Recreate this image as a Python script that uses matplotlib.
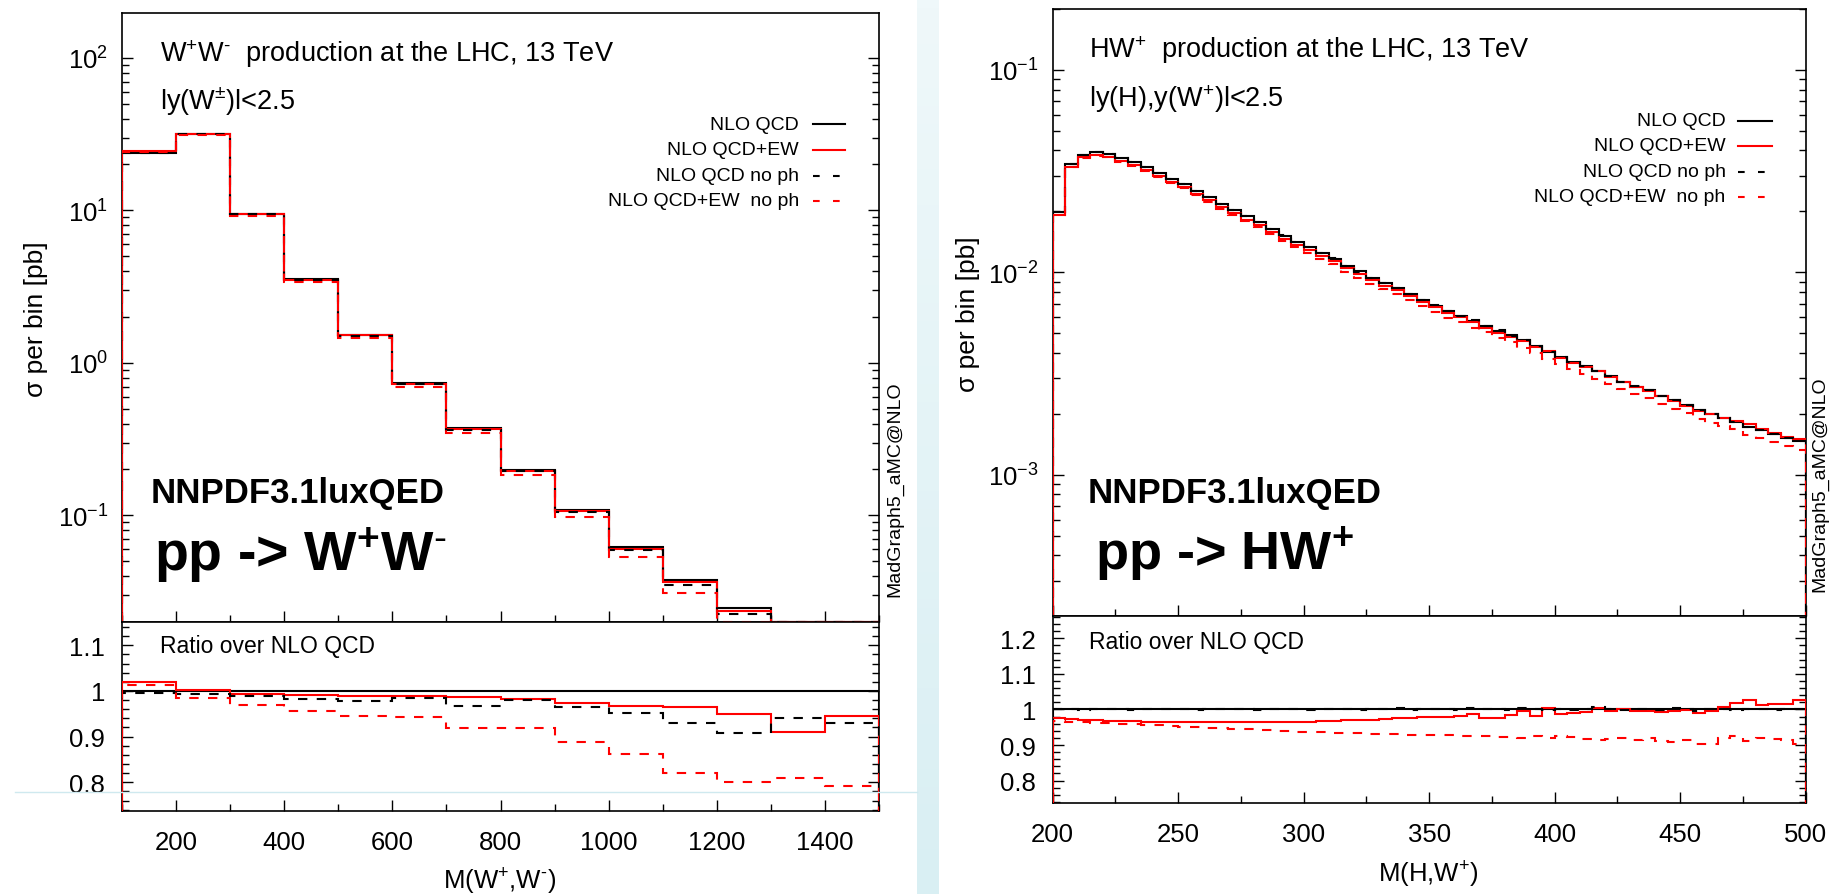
import numpy as np
import matplotlib
matplotlib.use('Agg')
import matplotlib.pyplot as plt
from matplotlib.ticker import MultipleLocator, LogLocator, FuncFormatter, NullFormatter

plt.rcParams['font.family'] = ['Liberation Sans', 'DejaVu Sans']
plt.rcParams['mathtext.fontset'] = 'custom'
plt.rcParams['mathtext.rm'] = 'Liberation Sans'
plt.rcParams['mathtext.it'] = 'Liberation Sans:italic'
plt.rcParams['mathtext.bf'] = 'Liberation Sans:bold'

W, H = 1834, 895

### W+W- invariant mass, bins of 100 GeV
ww_edges = np.arange(100, 1501, 100)
ww_qcd = [23.9, 31.7, 9.5, 3.54, 1.53, 0.74, 0.376, 0.199, 0.109, 0.0624,
          0.0378, 0.0248, 0.0155, 0.0105]
ww_ratio_ew = [1.019, 1.001, 0.994, 0.991, 0.989, 0.988, 0.986, 0.983, 0.974,
               0.967, 0.965, 0.950, 0.911, 0.945]
ww_ratio_qcd_noph = [0.996, 0.993, 0.990, 0.983, 0.978, 0.985, 0.967, 0.980,
                     0.964, 0.951, 0.930, 0.907, 0.941, 0.930]
ww_ratio_ew_noph = [1.012, 0.984, 0.969, 0.956, 0.945, 0.943, 0.918, 0.918,
                    0.889, 0.861, 0.820, 0.800, 0.810, 0.792]

### H W+ invariant mass, bins of 5 GeV
hw_edges = np.arange(200, 501, 5)
hw_qcd = [0.0198, 0.0343, 0.0382, 0.0392, 0.0385, 0.0367, 0.0350, 0.0331, 0.0310, 0.0290,
          0.0274, 0.0253, 0.0235, 0.0218, 0.0204, 0.0189, 0.0177, 0.0164, 0.0152, 0.0142,
          0.0133, 0.0125, 0.0117, 0.0108, 0.0101, 0.0094, 0.00885, 0.00836, 0.00783, 0.00731,
          0.00686, 0.00643, 0.00612, 0.00578, 0.00546, 0.00516, 0.00488, 0.00461, 0.00435, 0.00406,
          0.00381, 0.00360, 0.00343, 0.00324, 0.00306, 0.00289, 0.00273, 0.00261, 0.00246, 0.00233,
          0.00220, 0.00209, 0.00200, 0.00190, 0.00182, 0.00173, 0.00166, 0.00159, 0.00152, 0.00147]
hw_ratio_ew = [0.975, 0.972, 0.970, 0.969, 0.968, 0.967, 0.967, 0.966, 0.966, 0.965,
               0.965, 0.964, 0.964, 0.964, 0.964, 0.964, 0.964, 0.965, 0.965, 0.966,
               0.966, 0.967, 0.968, 0.969, 0.970, 0.971, 0.973, 0.975, 0.976, 0.978,
               0.979, 0.980, 0.983, 0.986, 0.977, 0.977, 0.985, 0.995, 0.982, 1.004,
               0.988, 0.990, 0.992, 1.003, 0.996, 1.000, 0.997, 0.995, 0.993, 0.997,
               0.999, 0.991, 0.995, 1.007, 1.019, 1.027, 1.012, 1.014, 1.014, 1.028]
hw_ratio_qcd_noph = [1.000, 1.001, 0.999, 1.000, 1.001, 1.000, 0.999, 1.001, 1.000, 1.002,
                     1.000, 0.999, 1.001, 1.000, 1.000, 1.002, 0.999, 1.000, 1.001, 1.000,
                     0.999, 1.001, 1.002, 1.000, 0.998, 1.001, 1.000, 1.003, 0.999, 1.000,
                     1.002, 1.000, 0.998, 1.003, 1.000, 1.001, 0.999, 1.003, 1.000, 0.998,
                     1.002, 0.999, 1.001, 1.006, 1.000, 0.998, 1.002, 1.000, 0.999, 1.003,
                     1.001, 0.996, 1.000, 1.002, 0.999, 1.001, 1.000, 0.998, 1.001, 1.000]
hw_ratio_ew_noph = [0.968, 0.966, 0.964, 0.962, 0.961, 0.960, 0.958, 0.957, 0.955, 0.953,
                    0.951, 0.950, 0.948, 0.947, 0.945, 0.944, 0.942, 0.941, 0.940, 0.938,
                    0.937, 0.936, 0.935, 0.934, 0.933, 0.932, 0.931, 0.930, 0.929, 0.928,
                    0.927, 0.928, 0.925, 0.924, 0.926, 0.922, 0.923, 0.921, 0.924, 0.920,
                    0.925, 0.922, 0.918, 0.914, 0.916, 0.920, 0.915, 0.920, 0.911, 0.909,
                    0.913, 0.904, 0.902, 0.920, 0.925, 0.911, 0.920, 0.918, 0.913, 0.902]

legend_labels = ['NLO QCD', 'NLO QCD+EW', 'NLO QCD no ph', 'NLO QCD+EW  no ph']

DASH = (0, (4.5, 4.5))
styles = [
	dict(color='black', ls='-',  z=2),
	dict(color='red',   ls='-',  z=3),
	dict(color='black', ls=DASH, z=4),
	dict(color='red',   ls=DASH, z=5),
]


def box(x0, y0, x1, y1):
	return [x0 / W, 1 - y1 / H, (x1 - x0) / W, (y1 - y0) / H]


def ptext(x, y, s, **kw):
	fig.text(x / W, 1 - y / H, s, **kw)


def ratio_fmt(v, pos):
	return '%g' % round(v, 3)


def style_axes(ax, xmajor, xminor):
	for sp in ax.spines.values():
		sp.set_linewidth(1.2)
	ax.xaxis.set_major_locator(MultipleLocator(xmajor))
	ax.xaxis.set_minor_locator(MultipleLocator(xminor))
	ax.tick_params(which='both', direction='in', left=True, right=True,
	               top=False, bottom=True, width=1.0, labelsize=18.5)
	ax.tick_params(which='major', length=8)
	ax.tick_params(which='minor', length=4.8)


def panel(edges, qcd, r_ew, r_qcd_noph, r_ew_noph, box_main, box_ratio,
          ylim, rlim, rmajor, xmajor, xminor):
	qcd = np.array(qcd)
	ratios = [np.ones(len(qcd)), np.array(r_ew), np.array(r_qcd_noph), np.array(r_ew_noph)]

	axm = fig.add_axes(box_main)
	axr = fig.add_axes(box_ratio, sharex=axm)

	for r, st in zip(ratios, styles):
		axm.stairs(np.maximum(qcd * r, ylim[0]), edges, baseline=ylim[0],
		           color=st['color'], ls=st['ls'], lw=1.5, zorder=st['z'])
		axr.stairs(np.clip(r, rlim[0], rlim[1]), edges, baseline=rlim[0],
		           color=st['color'], ls=st['ls'], lw=1.5, zorder=st['z'])

	axm.set_yscale('log')
	axm.set_ylim(*ylim)
	axm.set_xlim(edges[0], edges[-1])
	axr.set_ylim(*rlim)

	style_axes(axm, xmajor, xminor)
	style_axes(axr, xmajor, xminor)
	axm.yaxis.set_major_locator(LogLocator(base=10, numticks=12))
	axm.yaxis.set_minor_locator(LogLocator(base=10, subs=np.arange(2, 10), numticks=12))
	axm.yaxis.set_minor_formatter(NullFormatter())
	axm.tick_params(axis='y', which='both', pad=10)
	axm.tick_params(axis='x', labelbottom=False)
	axr.yaxis.set_major_locator(MultipleLocator(rmajor))
	axr.yaxis.set_minor_locator(MultipleLocator(0.02))
	axr.yaxis.set_major_formatter(FuncFormatter(ratio_fmt))
	axr.tick_params(axis='y', which='both', pad=12)
	axr.tick_params(axis='x', which='both', pad=14)
	return axm, axr


def legend(x_text, x0, x1, rows):
	for lab, st, y in zip(legend_labels, styles, rows):
		ptext(x_text, y, lab, ha='right', va='center', fontsize=14)
		ls = st['ls'] if st['ls'] == '-' else (0, (3.2, 6.4))
		fig.add_artist(plt.Line2D([x0 / W, x1 / W], [1 - y / H, 1 - y / H],
		                          color=st['color'], ls=ls, lw=1.5))


fig = plt.figure(figsize=(W / 100, H / 100), dpi=100)

### slide background pieces
strip = fig.add_axes(box(917, 0, 939, H))
strip.imshow(np.linspace(0, 1, 100).reshape(-1, 1), aspect='auto',
             cmap=matplotlib.colors.LinearSegmentedColormap.from_list('s', ['#eff8fa', '#d9eff3']),
             extent=[0, 1, 0, 1])
strip.set_axis_off()
fig.add_artist(plt.Line2D([15 / W, 917 / W], [1 - 793 / H, 1 - 793 / H],
                          color='#cfe9ef', lw=1.0, zorder=10))

### left: W+W-
axm, axr = panel(ww_edges, ww_qcd, ww_ratio_ew, ww_ratio_qcd_noph, ww_ratio_ew_noph,
                 box(122, 14, 879, 623), box(122, 623, 879, 812),
                 (0.02, 197), (0.737, 1.151), 0.1, 200, 100)

ptext(160, 62, r'W$^{+}$W$^{\text{-}}$  production at the LHC, 13 TeV', fontsize=19.5, va='baseline')
ptext(160, 110, r'ly(W$^{\pm}$)l<2.5', fontsize=19.5, va='baseline')
legend(799, 813, 845, [125, 150.7, 176.7, 201.7])
ptext(151, 502.7, 'NNPDF3.1luxQED', fontsize=25, fontweight='bold', va='baseline')
ptext(154, 570, r'pp -> W$^{\mathbf{+}}$W$^{\mathbf{\text{-}}}$', fontsize=40,
      fontweight='bold', va='baseline')
ptext(160, 647, 'Ratio over NLO QCD', fontsize=16.5, va='center')
ptext(895, 489, 'MadGraph5_aMC@NLO', fontsize=14, rotation=90, ha='center', va='center')
ptext(36, 319, r'σ per bin [pb]', fontsize=19, rotation=90, ha='center', va='center')
ptext(500, 882, r'M(W$^{+}$,W$^{\text{-}}$)', fontsize=18.5, ha='center', va='center')

### right: H W+
axm2, axr2 = panel(hw_edges, hw_qcd, hw_ratio_ew, hw_ratio_qcd_noph, hw_ratio_ew_noph,
                   box(1052.7, 10, 1805.7, 617.3), box(1052.7, 617.3, 1805.7, 804),
                   (2e-4, 0.2), (0.737, 1.262), 0.1, 50, 25)

ptext(1089, 58, r'HW$^{+}$  production at the LHC, 13 TeV', fontsize=19.5, va='baseline')
ptext(1089, 107, r'ly(H),y(W$^{+}$)l<2.5', fontsize=19.5, va='baseline')
legend(1725.7, 1738, 1771.7, [121.7, 146.7, 172.7, 197.7])
ptext(1088, 502.7, 'NNPDF3.1luxQED', fontsize=25, fontweight='bold', va='baseline')
ptext(1095, 570, r'pp -> HW$^{\mathbf{+}}$', fontsize=39, fontweight='bold', va='baseline')
ptext(1089, 642, 'Ratio over NLO QCD', fontsize=16.5, va='center')
ptext(1820, 484, 'MadGraph5_aMC@NLO', fontsize=14, rotation=90, ha='center', va='center')
ptext(968, 314, r'σ per bin [pb]', fontsize=19, rotation=90, ha='center', va='center')
ptext(1428, 875, r'M(H,W$^{+}$)', fontsize=18.5, ha='center', va='center')

fig.savefig('out.png', dpi=100)
